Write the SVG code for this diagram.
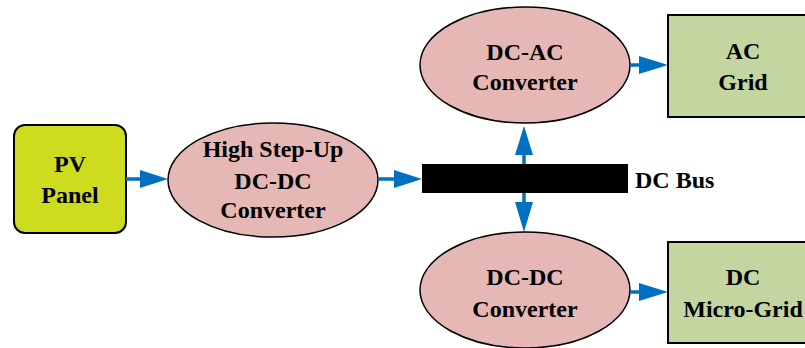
<svg xmlns="http://www.w3.org/2000/svg" width="805" height="348" viewBox="0 0 805 348">
  <style>
    .lbl { font-family: "Liberation Serif", "Times New Roman", serif; font-weight: bold; font-size: 24px; fill: #000; text-anchor: middle; }
    .conv { fill: #e5b8b5; stroke: #000; stroke-width: 1.5; }
    .grid { fill: #c4d6a0; stroke: #000; stroke-width: 2; }
    .pv { fill: #cddc1f; stroke: #000; stroke-width: 2; }
    .wire { stroke: #0070c0; stroke-width: 3.5; fill: none; }
    .head { fill: #0070c0; }
  </style>

  <rect x="0" y="0" width="805" height="348" fill="#fff"/>

  <g id="pv-panel">
    <rect class="pv" x="14" y="125" width="112" height="108" rx="11" ry="11"/>
    <text class="lbl" x="70" y="172">PV</text>
    <text class="lbl" x="70" y="203">Panel</text>
  </g>

  <g id="boost-converter">
    <ellipse class="conv" cx="273" cy="180" rx="105" ry="57"/>
    <text class="lbl" x="273" y="157">High Step-Up</text>
    <text class="lbl" x="273" y="189">DC-DC</text>
    <text class="lbl" x="273" y="218">Converter</text>
  </g>

  <g id="dc-bus">
    <rect x="422" y="164" width="206" height="29" fill="#000"/>
    <text class="lbl" x="635" y="188" style="text-anchor:start">DC Bus</text>
  </g>

  <g id="dc-ac-converter">
    <ellipse class="conv" cx="525" cy="65" rx="105" ry="58"/>
    <text class="lbl" x="525" y="60">DC-AC</text>
    <text class="lbl" x="525" y="90">Converter</text>
  </g>

  <g id="dc-dc-converter">
    <ellipse class="conv" cx="525" cy="290" rx="105" ry="58"/>
    <text class="lbl" x="525" y="285">DC-DC</text>
    <text class="lbl" x="525" y="317">Converter</text>
  </g>

  <g id="ac-grid">
    <rect class="grid" x="668" y="15" width="145" height="102"/>
    <text class="lbl" x="743" y="59">AC</text>
    <text class="lbl" x="743" y="90">Grid</text>
  </g>

  <g id="dc-micro-grid">
    <rect class="grid" x="668" y="242" width="145" height="101"/>
    <text class="lbl" x="743" y="285">DC</text>
    <text class="lbl" x="743" y="317">Micro-Grid</text>
  </g>

  <g id="connectors">
    <!-- PV panel to boost converter -->
    <line class="wire" x1="126" y1="179" x2="142" y2="179"/>
    <polygon class="head" points="140,170 168,179 140,188"/>
    <!-- boost converter to DC bus -->
    <line class="wire" x1="378" y1="179" x2="396" y2="179"/>
    <polygon class="head" points="394,170 422,179 394,188"/>
    <!-- DC bus up to DC-AC converter -->
    <line class="wire" x1="524" y1="164" x2="524" y2="153"/>
    <polygon class="head" points="515,155 524,126 533,155"/>
    <!-- DC bus down to DC-DC converter -->
    <line class="wire" x1="524" y1="193" x2="524" y2="204"/>
    <polygon class="head" points="515,202 524,232 533,202"/>
    <!-- DC-AC converter to AC grid -->
    <line class="wire" x1="630" y1="65" x2="641" y2="65"/>
    <polygon class="head" points="639,56 668,65 639,74"/>
    <!-- DC-DC converter to DC micro-grid -->
    <line class="wire" x1="630" y1="292" x2="641" y2="292"/>
    <polygon class="head" points="639,283 668,292 639,301"/>
  </g>
</svg>
